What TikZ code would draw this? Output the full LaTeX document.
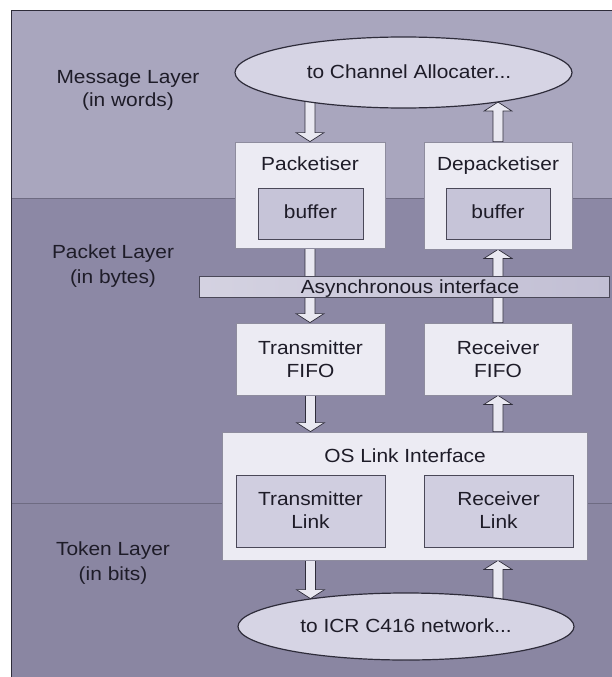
\documentclass[tikz,border=0pt]{standalone}
\usepackage{fontspec}
\setmainfont[FakeStretch=1.1]{Liberation Sans}
\usetikzlibrary{fit,calc,shapes.geometric}

\definecolor{msgband}{HTML}{A9A6BE}
\definecolor{pktband}{HTML}{8C88A5}
\definecolor{tokband}{HTML}{8A86A2}
\definecolor{boxfill}{HTML}{ECEBF3}
\definecolor{boxline}{HTML}{8E8C9E}
\definecolor{buffill}{HTML}{C6C4D8}
\definecolor{linkfill}{HTML}{D0CEE0}
\definecolor{innerline}{HTML}{4A4858}
\definecolor{ellfill}{HTML}{D6D4E4}
\definecolor{darkline}{HTML}{2E2C3A}
\definecolor{arrfill}{HTML}{E9E8F1}
\definecolor{barleft}{HTML}{D4D2E1}
\definecolor{barright}{HTML}{C2BFD4}
\definecolor{txtcol}{HTML}{1E1C28}
\definecolor{bandline}{HTML}{6E6B82}

\pgfdeclarelayer{bands}
\pgfdeclarelayer{flow}
\pgfsetlayers{bands,flow,main}

\newcommand\diagfont{\fontsize{19}{23}\selectfont}

% vertical block arrow from #1 (tail) to #2 (tip); #3 is + for a downward tip, - for upward
\newcommand\blockarrow[3]{%
  \path[arrowshape] let \p1=(#1), \p2=(#2) in
    (\x1-5pt,\y1) -- (\x1-5pt,\y2#39pt) -- (\x1-14pt,\y2#39pt) -- (\x1,\y2)
    -- (\x1+14pt,\y2#39pt) -- (\x1+5pt,\y2#39pt) -- (\x1+5pt,\y1) -- cycle;}

\tikzset{
  txt/.style={anchor=base, inner sep=0pt, font=\diagfont, text=txtcol},
  outerbox/.style={draw=boxline, line width=0.8pt, fill=boxfill, inner sep=0pt},
  bufbox/.style={draw=innerline, line width=0.8pt, fill=buffill, inner sep=0pt},
  linkbox/.style={draw=innerline, line width=0.8pt, fill=linkfill, inner sep=0pt},
  barbox/.style={draw=innerline, line width=0.8pt, left color=barleft, right color=barright, inner sep=0pt},
  ellbox/.style={ellipse, draw=darkline, line width=1.2pt, fill=ellfill, inner sep=0pt},
  arrowshape/.style={draw=darkline, line width=0.7pt, fill=arrfill, line join=miter},
}

\begin{document}
\begin{tikzpicture}[x=1pt, y=-1pt]
\useasboundingbox (0,0) rectangle (612,677);

% layer bands and frame
\begin{pgfonlayer}{bands}
  \fill[white] (0,0) rectangle (612,677);
  \fill[msgband] (11,11) rectangle (612,198);
  \fill[pktband] (11,198) rectangle (612,503);
  \fill[tokband] (11,503) rectangle (612,677);
  \draw[bandline, line width=0.8pt] (11,198) -- (612,198) (11,503) -- (612,503);
  \draw[darkline, line width=1pt] (11,677) -- (11,11) -- (612,11);
\end{pgfonlayer}

% layer captions
\node[txt] (lm1) at (128,83) {Message Layer};
\node[txt] (lm2) at (128,106) {(in words)};
\node[txt] (lp1) at (113,258) {Packet Layer};
\node[txt] (lp2) at (113,283) {(in bytes)};
\node[txt] (lt1) at (113,555) {Token Layer};
\node[txt] (lt2) at (113,580) {(in bits)};

% message layer end point
\node[ellbox, minimum width=337, minimum height=71] (msg) at (403.5,72.5) {};
\node[txt] (msgt) at (409,78) {to Channel Allocater...};

% packetiser / depacketiser
\node[outerbox, fit={(235,142) (385,248)}] (pk) {};
\node[bufbox, fit={(258,188) (363,239)}] (pkb) {};
\node[txt] (pkt) at (310,170) {Packetiser};
\node[txt] (pkbt) at (310.5,218) {buffer};

\node[outerbox, fit={(424,142) (572,249)}] (dp) {};
\node[bufbox, fit={(446,188) (550,239)}] (dpb) {};
\node[txt] (dpt) at (498,170) {Depacketiser};
\node[txt] (dpbt) at (498,218) {buffer};

% asynchronous interface
\node[barbox, fit={(199,276) (609,297)}] (async) {};
\node[txt] (asynct) at (410,293) {Asynchronous interface};

% FIFOs
\node[outerbox, fit={(236,323) (385,395)}] (tf) {};
\node[txt] (tft1) at (310.5,354) {Transmitter};
\node[txt] (tft2) at (310.5,377) {FIFO};
\node[outerbox, fit={(424,323) (572,395)}] (rf) {};
\node[txt] (rft1) at (498,354) {Receiver};
\node[txt] (rft2) at (498,377) {FIFO};

% OS link interface
\node[outerbox, fit={(222,432) (587,560)}] (os) {};
\node[txt] (ost) at (405,462) {OS Link Interface};
\node[linkbox, fit={(236,475) (385,547)}] (tl) {};
\node[txt] (tlt1) at (310.5,505) {Transmitter};
\node[txt] (tlt2) at (310.5,528) {Link};
\node[linkbox, fit={(424,475) (573,547)}] (rl) {};
\node[txt] (rlt1) at (498.5,505) {Receiver};
\node[txt] (rlt2) at (498.5,528) {Link};

% network end point
\node[ellbox, minimum width=336, minimum height=67] (net) at (406,626.5) {};
\node[txt] (nett) at (406,632) {to ICR C416 network...};

% data flow arrows
\begin{pgfonlayer}{flow}
  \blockarrow{pk.north |- msg.center}{pk.north}{+}
  \blockarrow{dp.north}{dp.north |- msg.-17.3}{-}
  \blockarrow{pk.south}{tf.north}{+}
  \blockarrow{rf.north}{dp.south}{-}
  \blockarrow{tf.south}{tf.south |- os.north}{+}
  \blockarrow{rf.south |- os.north}{rf.south}{-}
  \blockarrow{tf.south |- os.south}{tf.south |- net.164}{+}
  \blockarrow{rf.south |- net.center}{rf.south |- os.south}{-}
\end{pgfonlayer}
\end{tikzpicture}
\end{document}
